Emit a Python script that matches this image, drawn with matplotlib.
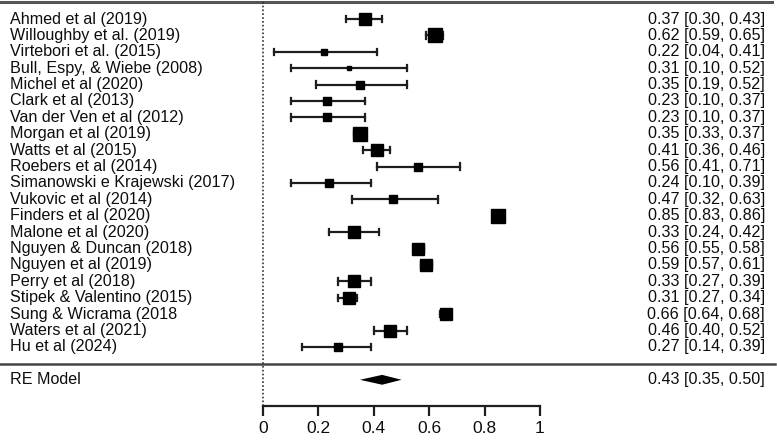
import matplotlib
matplotlib.use("Agg")
import matplotlib.pyplot as plt
import numpy as np

plt.rcParams['font.family'] = ['Liberation Sans', 'DejaVu Sans']

# study data (correlation estimates with 95% CI)
studies = [
    "Ahmed et al (2019)", "Willoughby et al. (2019)", "Virtebori et al. (2015)",
    "Bull, Espy, & Wiebe (2008)", "Michel et al (2020)", "Clark et al (2013)",
    "Van der Ven et al (2012)", "Morgan et al (2019)", "Watts et al (2015)",
    "Roebers et al (2014)", "Simanowski e Krajewski (2017)", "Vukovic et al (2014)",
    "Finders et al (2020)", "Malone et al (2020)", "Nguyen & Duncan (2018)",
    "Nguyen et al (2019)", "Perry et al (2018)", "Stipek & Valentino (2015)",
    "Sung & Wicrama (2018", "Waters et al (2021)", "Hu et al (2024)",
]
est = [0.37, 0.62, 0.22, 0.31, 0.35, 0.23, 0.23, 0.35, 0.41, 0.56, 0.24,
       0.47, 0.85, 0.33, 0.56, 0.59, 0.33, 0.31, 0.66, 0.46, 0.27]
lower = [0.30, 0.59, 0.04, 0.10, 0.19, 0.10, 0.10, 0.33, 0.36, 0.41, 0.10,
         0.32, 0.83, 0.24, 0.55, 0.57, 0.27, 0.27, 0.64, 0.40, 0.14]
upper = [0.43, 0.65, 0.41, 0.52, 0.52, 0.37, 0.37, 0.37, 0.46, 0.71, 0.39,
         0.63, 0.86, 0.42, 0.58, 0.61, 0.39, 0.34, 0.68, 0.52, 0.39]
# approximate study weights (%), read from square sizes
weights = [4.9, 5.6, 3.2, 2.6, 3.6, 3.9, 3.9, 5.3, 5.1, 3.6, 3.6, 3.6,
           5.3, 4.9, 5.1, 5.1, 5.1, 4.9, 5.1, 4.9, 3.9]

re_label = "RE Model"
re_est, re_lower, re_upper = 0.43, 0.35, 0.50

xticks = [0, 0.2, 0.4, 0.6, 0.8, 1]
xticklabels = ["0", "0.2", "0.4", "0.6", "0.8", "1"]

W, H = 777, 441
fig = plt.figure(figsize=(W / 100, H / 100), dpi=100)

# axes spans the whole width; bottom edge is the x-axis line
x0_px, x1_px = 263, 540
row0_px, row_step = 19, 16.4
axis_px = 406
ax = fig.add_axes([0, (H - axis_px) / H, 1, axis_px / H])
ax.set_xlim(-x0_px / (x1_px - x0_px), (W - x0_px) / (x1_px - x0_px))
ax.set_ylim((axis_px - row0_px) / row_step, -row0_px / row_step)

n = len(studies)
rows = np.arange(n)
re_row = n + 1
wmin, wmax = min(weights), max(weights)
sizes = [(4 + (w - wmin) / (wmax - wmin) * 10.5) * 0.72 for w in weights]

fs = 11.6
tcol = "#0d0d0d"
lcol = "#1e1e1e"
for i in range(n):
    ax.plot([lower[i], upper[i]], [i, i], color=lcol, lw=1.6)
    for v in (lower[i], upper[i]):
        ax.plot([v, v], [i - 0.19, i + 0.19], color=lcol, lw=1.6)
    ax.plot(est[i], i, marker="s", ms=sizes[i], color="black", mec="black")
    ax.text(10 / W, i, studies[i], transform=ax.get_yaxis_transform(),
            ha="left", va="center", fontsize=fs, color=tcol)
    ax.text(765 / W, i, f"{est[i]:.2f} [{lower[i]:.2f}, {upper[i]:.2f}]",
            transform=ax.get_yaxis_transform(), ha="right", va="center",
            fontsize=fs, color=tcol)

# summary diamond
h = 0.3
ax.fill([re_lower, re_est, re_upper, re_est], [re_row, re_row - h, re_row, re_row + h],
        color="black", lw=0)
ax.text(10 / W, re_row, re_label, transform=ax.get_yaxis_transform(),
        ha="left", va="center", fontsize=fs, color=tcol)
ax.text(765 / W, re_row, f"{re_est:.2f} [{re_lower:.2f}, {re_upper:.2f}]",
        transform=ax.get_yaxis_transform(), ha="right", va="center",
        fontsize=fs, color=tcol)

# horizontal rules and reference line
ax.plot([0, 772 / W], [-1.04, -1.04], transform=ax.get_yaxis_transform(),
        color="#555555", lw=2.2, clip_on=False)
ax.plot([0, 775 / W], [n + 0.04, n + 0.04], transform=ax.get_yaxis_transform(),
        color="#444444", lw=1.8, clip_on=False)
ax.axvline(0, color="#333333", lw=1.2, ls=(0, (1, 1.3)))

for s in ("top", "right", "left"):
    ax.spines[s].set_visible(False)
ax.spines["bottom"].set_bounds(0, 1)
ax.spines["bottom"].set_linewidth(1.6)
ax.spines["bottom"].set_color(lcol)
ax.set_yticks([])
ax.set_xticks(xticks)
ax.set_xticklabels(xticklabels, fontsize=12.5, color=tcol)
ax.tick_params(axis="x", length=7, width=1.6, color=lcol, pad=4)

fig.savefig("out.png", dpi=100)
